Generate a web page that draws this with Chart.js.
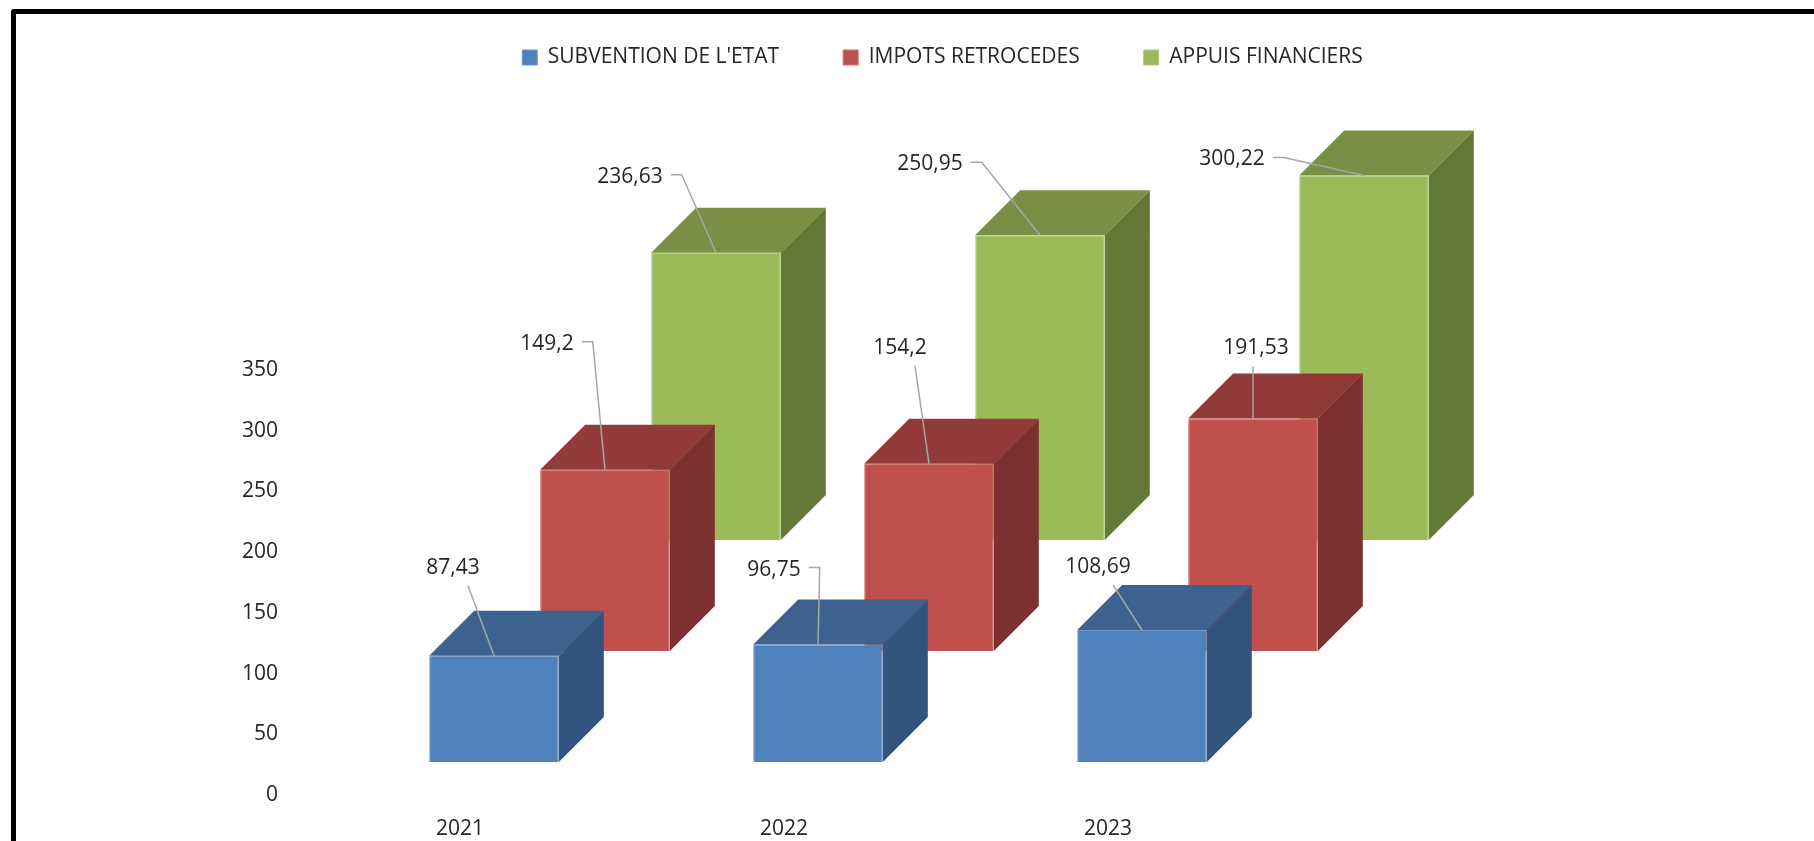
<!DOCTYPE html>
<html>
<head>
<meta charset="utf-8">
<title>Ressources</title>
<script src="https://cdn.jsdelivr.net/npm/chart.js@4.4.0/dist/chart.umd.min.js"></script>
<style>
    html, body { margin: 0; padding: 0; background: #fff; }
    #zone { position: relative; width: 1814px; height: 841px; overflow: hidden; }
    #zone canvas { position: absolute; left: 0; top: 0; }
    #cadre { position: absolute; left: 11px; top: 9px; width: 1830px; height: 900px;
             border: 5px solid #000; border-radius: 3px; box-sizing: border-box; }
</style>
</head>
<body>
<div id="zone">
    <canvas id="myChart" width="1814" height="841"></canvas>
    <div id="cadre"></div>
</div>
<script>
const annees = ['2021', '2022', '2023'];
const subvention = [87.43, 96.75, 108.69];
const impots = [149.2, 154.2, 191.53];
const appuis = [236.63, 250.95, 300.22];
const graduations = [0, 50, 100, 150, 200, 250, 300, 350];
const noms = ["SUBVENTION DE L'ETAT", 'IMPOTS RETROCEDES', 'APPUIS FINANCIERS'];

const couleurs = ['#4F81BD', '#C0504D', '#9BBB59'];
const dessus = ['#3D6290', '#923A39', '#788F45'];
const cotes = ['#32547F', '#7C302F', '#657937'];
const bords = ['#7297C8', '#CD716E', '#AFC97E'];
const police = "'Open Sans', sans-serif";
const taille = 21;
const texte = '#262626';

// effet 3D
const profondeur = 45;
const rang = {x: 111, y: -111};
const avant = {x: 34, y: -33};

// etiquettes placees a la main (par rapport au haut de la face avant)
const decalEtiquettes = [
    [[-41, -88], [-44, -75], [-44, -63]],
    [[-58, -126], [-29, -116], [3, -70]],
    [[-86, -76], [-110, -71], [-132, -16]]
];

function decalage(k){
    return {x: avant.x + k * rang.x, y: avant.y + k * rang.y};
}

const cubes = {
    id: 'cubes',
    beforeDatasetDraw(chart, args){
        const ctx = chart.ctx;
        const k = args.index;
        const d = decalage(k);
        ctx.save();
        ctx.translate(d.x, d.y);
        args.meta.data.forEach((barre)=>{
            const {x, y, base, width} = barre.getProps(['x', 'y', 'base', 'width'], true);
            const g = x - width / 2;
            const dr = x + width / 2;
            ctx.fillStyle = dessus[k];
            ctx.beginPath();
            ctx.moveTo(g, y);
            ctx.lineTo(g + profondeur, y - profondeur);
            ctx.lineTo(dr + profondeur, y - profondeur);
            ctx.lineTo(dr, y);
            ctx.closePath();
            ctx.fill();
            ctx.fillStyle = cotes[k];
            ctx.beginPath();
            ctx.moveTo(dr, y);
            ctx.lineTo(dr + profondeur, y - profondeur);
            ctx.lineTo(dr + profondeur, base - profondeur);
            ctx.lineTo(dr, base);
            ctx.closePath();
            ctx.fill();
        });
    },
    afterDatasetDraw(chart){
        chart.ctx.restore();
    },
    afterDatasetsDraw(chart){
        const ctx = chart.ctx;
        ctx.save();
        ctx.font = taille + 'px ' + police;
        ctx.textAlign = 'center';
        ctx.textBaseline = 'middle';
        chart.data.datasets.forEach((ds, k)=>{
            const d = decalage(k);
            chart.getDatasetMeta(k).data.forEach((barre, i)=>{
                const bx = barre.x + d.x;
                const by = barre.y + d.y;
                const lx = bx + decalEtiquettes[k][i][0];
                const ly = by + decalEtiquettes[k][i][1];
                const txt = String(ds.data[i]).replace('.', ',');
                const w = ctx.measureText(txt).width;
                ctx.strokeStyle = '#A6A6A6';
                ctx.lineWidth = 1.5;
                ctx.beginPath();
                if(bx > lx + w / 2 + 15){
                    const x0 = lx + w / 2 + 8;
                    ctx.moveTo(x0, ly - 2);
                    ctx.lineTo(x0 + 11, ly - 2);
                }else{
                    ctx.moveTo(lx + Math.max(-15, Math.min(15, bx - lx)), ly + 18);
                }
                ctx.lineTo(bx, by);
                ctx.stroke();
                ctx.fillStyle = texte;
                ctx.fillText(txt, lx, ly);
            });
        });
        ctx.restore();
    }
};

const series = [subvention, impots, appuis];

const ctx = document.getElementById('myChart').getContext('2d');
const myChart = new Chart(ctx, {
    type: 'bar',
    data: {
        labels: annees,
        datasets: series.map((valeurs, k)=>({
            label: noms[k],
            data: valeurs,
            backgroundColor: couleurs[k],
            borderColor: bords[k],
            borderWidth: 1
        }))
    },
    options: {
        responsive: false,
        animation: false,
        layout: {
            padding: {top: -17, left: 238, right: 167, bottom: 1}
        },
        datasets: {
            bar: {grouped: false, categoryPercentage: 1, barPercentage: 0.4, clip: false}
        },
        plugins: {
            legend: {
                position: 'top',
                labels: {
                    boxWidth: 15,
                    boxHeight: 15,
                    padding: 64,
                    color: texte,
                    font: {family: police, size: taille}
                }
            },
            tooltip: {enabled: false}
        },
        scales: {
            x: {
                grid: {display: false, drawTicks: false},
                border: {display: false},
                ticks: {padding: 21, color: texte, font: {family: police, size: taille}},
                afterFit: (s)=>{ s.height = 45; }
            },
            y: {
                min: 0,
                max: 590.5,
                grid: {display: false, drawTicks: false},
                border: {display: false},
                ticks: {padding: 20, color: texte, font: {family: police, size: taille}},
                afterBuildTicks: (s)=>{ s.ticks = graduations.map((v)=>({value: v})); },
                afterFit: (s)=>{ s.width = 60; }
            },
            marge: {
                type: 'linear',
                position: 'right',
                grid: {display: false, drawTicks: false},
                border: {display: false},
                ticks: {display: false},
                afterFit: (s)=>{ s.width = 377; }
            }
        }
    },
    plugins: [cubes]
});
</script>
</body>
</html>
